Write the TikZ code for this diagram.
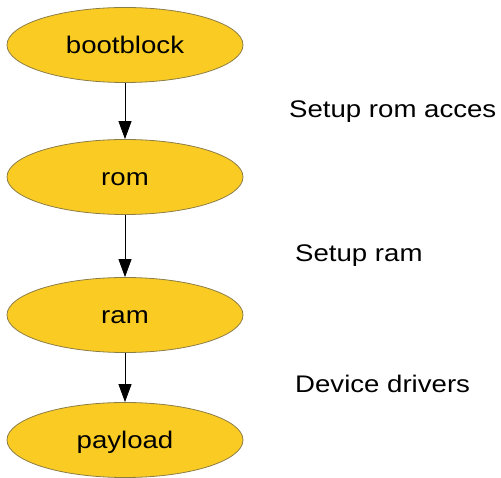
\documentclass[tikz,border=0pt]{standalone}
\usepackage{fontspec}
\setmainfont{Liberation Sans}
\newfontfamily\diagfont[FakeStretch=1.15]{Liberation Sans}
\usetikzlibrary{shapes.geometric,arrows.meta}

\definecolor{stagefill}{RGB}{250,204,35}
\definecolor{stageline}{RGB}{140,125,70}

\tikzset{
  stage/.style={ellipse, draw=stageline, line width=0.8pt, fill=stagefill,
    minimum width=236pt, minimum height=75pt, inner sep=0pt,
    text height=18pt, text depth=0pt,
    font=\diagfont\fontsize{24pt}{28pt}\selectfont},
  flow/.style={draw=black, line width=0.8pt,
    -{Triangle[length=18pt,width=13pt]}},
  note/.style={anchor=base west, inner sep=0pt,
    font=\diagfont\fontsize{24pt}{28pt}\selectfont}
}

\begin{document}
\begin{tikzpicture}[x=1pt,y=-1pt]
  \useasboundingbox (0,0) rectangle (501,478);

  \node[stage] (boot) at (125,45)  {bootblock};
  \node[stage] (rom)  at (125,177) {rom};
  \node[stage] (ram)  at (125,315) {ram};
  \node[stage] (pay)  at (125,440) {payload};

  \draw[flow] (boot) -- (rom);
  \draw[flow] (rom)  -- (ram);
  \draw[flow] (ram)  -- (pay);

  \node[note] (n1) at (289,118) {Setup rom acces};
  \node[note] (n2) at (295,262) {Setup ram};
  \node[note] (n3) at (295,393) {Device drivers};
\end{tikzpicture}
\end{document}
